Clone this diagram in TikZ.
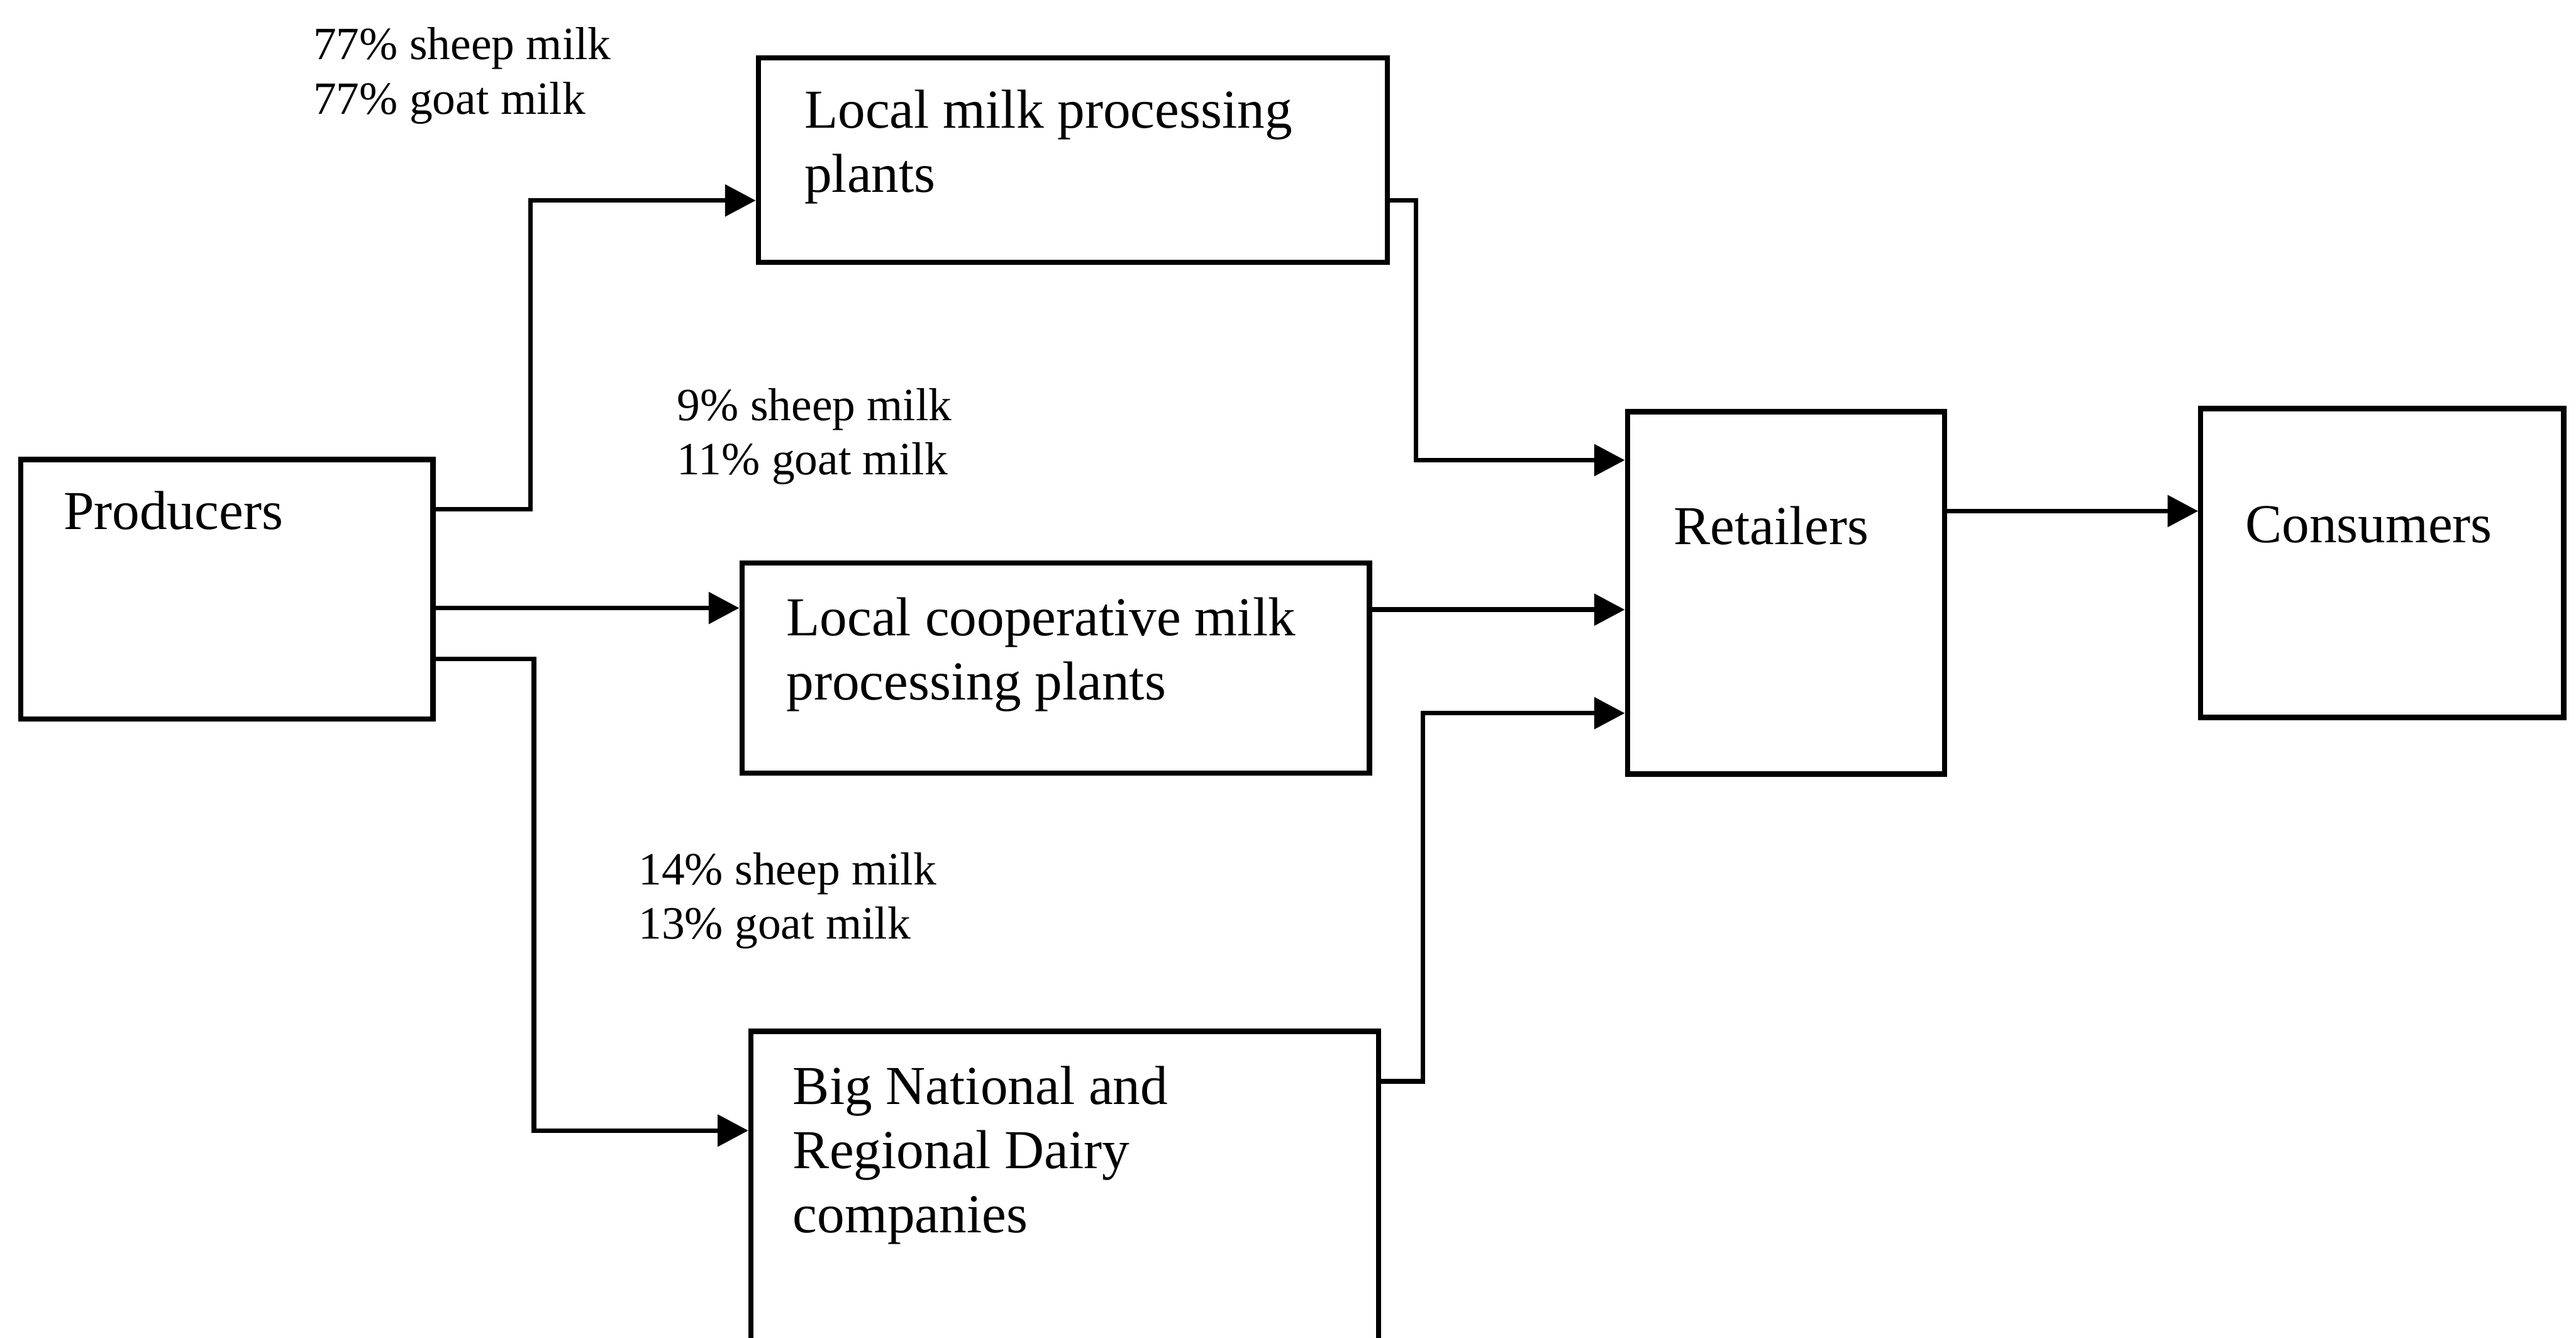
\documentclass[tikz,border=0pt]{standalone}
\usepackage{fontspec}
\setmainfont{Liberation Serif}
\usetikzlibrary{arrows.meta,calc}
\tikzset{
  box/.style={draw, line width=0.9pt, rectangle, inner sep=0pt, anchor=north west},
  conn/.style={draw, line width=0.8pt, -{Triangle[length=5.3pt,width=5.4pt]}},
  maintxt/.style={inner sep=0pt, align=left, font=\fontsize{9.5}{11.1}\selectfont},
  smalltxt/.style={inner sep=0pt, align=left, font=\fontsize{8}{9.4}\selectfont},
}
\begin{document}
\begin{tikzpicture}[x=0.01cm,y=-0.01cm]
\useasboundingbox (0,0) rectangle (1568,814);
\clip (0,0) rectangle (1568,814);
% boxes
\node[box, minimum width=251*0.01cm, minimum height=158*0.01cm] (prod) at (11,278) {};
\node[box, minimum width=383*0.01cm, minimum height=124.5*0.01cm] (lmp) at (460,33.5) {};
\node[box, minimum width=382*0.01cm, minimum height=128*0.01cm] (coop) at (450,341) {};
\node[box, minimum width=382*0.01cm, minimum height=300*0.01cm] (big) at (455.5,626) {};
\node[box, minimum width=193*0.01cm, minimum height=220.5*0.01cm] (ret) at (989,249) {};
\node[box, minimum width=221*0.01cm, minimum height=188*0.01cm] (cons) at (1338,247) {};
% box texts
\node[maintxt, anchor=base west] (prodT) at (38,322) {Producers};
\node[maintxt, anchor=north west] (lmpT) at (489,54) {Local milk processing\\plants};
\node[maintxt, anchor=north west] (coopT) at (478,363) {Local cooperative milk\\processing plants};
\node[maintxt, anchor=north west] (bigT) at (482,648) {Big National and\\Regional Dairy\\companies};
\node[maintxt, anchor=base west] (retT) at (1018,331.5) {Retailers};
\node[maintxt, anchor=base west] (consT) at (1366,330) {Consumers};
% share labels
\node[smalltxt, anchor=north west] (l1) at (190,16) {77\% sheep milk\\77\% goat milk};
\node[smalltxt, anchor=north west] (l2) at (411.5,235.5) {9\% sheep milk\\11\% goat milk};
\node[smalltxt, anchor=north west] (l3) at (388,518) {14\% sheep milk\\13\% goat milk};
% connectors
\draw[conn] (prod.east |- 0,310) -| (323,122) -- (lmp.west |- 0,122);
\draw[conn] (prod.east |- 0,370) -- (coop.west |- 0,370);
\draw[conn] (prod.east |- 0,401) -| (325,688) -- (big.west |- 0,688);
\draw[conn] (lmp.east |- 0,122) -| (862,280) -- (ret.west |- 0,280);
\draw[conn] (coop.east |- 0,371) -- (ret.west |- 0,371);
\draw[conn] (big.east |- 0,658) -| (866,434) -- (ret.west |- 0,434);
\draw[conn] (ret.east |- 0,311) -- (cons.west |- 0,311);
\end{tikzpicture}
\end{document}
